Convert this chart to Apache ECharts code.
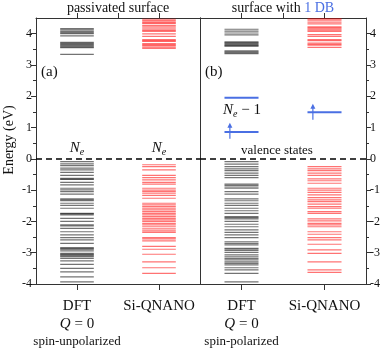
<!DOCTYPE html>
<html>
<head>
<meta charset="utf-8">
<script src="https://cdn.jsdelivr.net/npm/echarts@6/dist/echarts.min.js"></script>
<style>
html, body { margin: 0; padding: 0; background: #fff; }
#main { width: 384px; height: 349px; }
</style>
</head>
<body>
<div id="main"></div>
<script>
// x positions of the two methods on each panel's 0..4 axis
var dftX = 1, qnanoX = 3;

// (a) passivated surface, energies in eV
var passDftCond = [4.16, 4.12, 4.07, 4.03, 4.0, 3.93, 3.72, 3.69, 3.66, 3.63, 3.6, 3.57, 3.55, 3.34];
var passDftVal = [-0.09, -0.16, -0.22, -0.3, -0.35, -0.43, -0.53, -0.62, -0.64, -0.66, -0.75, -0.83, -0.94, -0.99,
    -1.05, -1.13, -1.28, -1.31, -1.34, -1.42, -1.49, -1.58, -1.74, -1.76, -1.79, -1.9, -2.0, -2.11, -2.14, -2.22,
    -2.33, -2.43, -2.52, -2.59, -2.7, -2.84, -2.87, -2.89, -2.94, -3.02, -3.05, -3.07, -3.1, -3.13, -3.18, -3.26,
    -3.37, -3.5, -3.61, -3.77, -3.93];
var passQnanoCond = [4.46, 4.42, 4.38, 4.35, 4.32, 4.26, 4.22, 4.18, 4.14, 4.1, 4.07, 3.99, 3.91, 3.81, 3.78, 3.75,
    3.68, 3.65, 3.62, 3.57, 3.53];
var passQnanoVal = [-0.19, -0.25, -0.35, -0.53, -0.6, -0.67, -0.75, -0.81, -0.94, -1.0, -1.05, -1.1, -1.17, -1.26,
    -1.42, -1.47, -1.53, -1.58, -1.63, -1.69, -1.74, -1.79, -1.85, -1.9, -1.95, -2.0, -2.06, -2.11, -2.17, -2.24,
    -2.3, -2.35, -2.52, -2.56, -2.62, -2.8, -2.89, -3.05, -3.29, -3.48, -3.66];

// (b) surface with 1 DB
var dbDftCond = [4.14, 4.08, 4.02, 3.96, 3.74, 3.71, 3.68, 3.65, 3.62, 3.6, 3.45, 3.42, 3.39, 3.36];
var dbDftVal = [-0.09, -0.17, -0.25, -0.32, -0.38, -0.46, -0.53, -0.6, -0.81, -0.85, -0.9, -0.94, -1.05, -1.13,
    -1.28, -1.34, -1.42, -1.49, -1.58, -1.66, -1.74, -1.85, -1.88, -1.92, -2.0, -2.09, -2.17, -2.27, -2.35, -2.43,
    -2.52, -2.65, -2.7, -2.75, -2.86, -2.89, -2.93, -2.99, -3.07, -3.13, -3.18, -3.23, -3.29, -3.34, -3.39, -3.48,
    -3.55, -3.66, -3.93];
var dbQnanoCond = [4.47, 4.43, 4.37, 4.31, 4.22, 4.19, 4.15, 4.11, 4.07, 3.97, 3.91, 3.81, 3.78, 3.7, 3.66, 3.63, 3.56];
var dbQnanoVal = [-0.25, -0.32, -0.38, -0.46, -0.53, -0.64, -0.7, -0.78, -0.94, -1.0, -1.07, -1.15, -1.24, -1.31,
    -1.37, -1.45, -1.53, -1.58, -1.69, -1.74, -1.92, -1.98, -2.06, -2.11, -2.17, -2.33, -2.41, -2.52, -2.59, -2.73,
    -2.91, -3.02, -3.29, -3.55, -3.63];

// dangling bond states (blue)
var dbDftStates = [1.95, 0.86];
var dbQnanoStates = [1.49];
// spin-up arrows: x, from, to
var spinX = [0.72, 2.72];
var spinFrom = [0.64, 1.25];
var spinTo = [1.15, 1.76];

var yTicks = [-4, -3, -2, -1, 0, 1, 2, 3, 4];

var serif = 'Liberation Serif';
var black = 'rgba(0,0,0,0.55)';
var red = 'rgba(255,0,0,0.55)';
var blue = '#4a6fe3';
var axisCol = '#333';

function levels(vals, xc, color, xi, yi, w) {
    return {
        type: 'custom',
        xAxisIndex: xi,
        yAxisIndex: yi,
        silent: true,
        data: vals.map(function (e) { return [xc, e]; }),
        renderItem: function (params, api) {
            var a = api.coord([api.value(0) - 0.41, api.value(1)]);
            var b = api.coord([api.value(0) + 0.41, api.value(1)]);
            return {
                type: 'line',
                shape: {x1: a[0], y1: a[1], x2: b[0], y2: b[1]},
                style: {stroke: color, lineWidth: w}
            };
        }
    };
}

function zeroLine(xi, yi) {
    return {
        type: 'line', xAxisIndex: xi, yAxisIndex: yi, data: [], silent: true,
        markLine: {
            silent: true, symbol: 'none', label: {show: false},
            lineStyle: {color: '#000', width: 1.5, type: [6, 4]},
            data: [{yAxis: 0}]
        }
    };
}

var arrowData = spinX.map(function (x, i) { return [x, spinFrom[i], spinTo[i]]; });

var chart = echarts.init(document.getElementById('main'));

function bottomAxis(grid, third) {
    return {
        type: 'value', gridIndex: grid, position: 'bottom', min: 0, max: 4,
        axisLine: {onZero: false, lineStyle: {color: axisCol}},
        axisTick: {customValues: [dftX, qnanoX], length: 6, lineStyle: {color: axisCol}},
        splitLine: {show: false},
        axisLabel: {
            customValues: [dftX, qnanoX],
            margin: 13,
            color: '#111',
            fontFamily: serif,
            fontSize: 15,
            lineHeight: 18,
            formatter: function (v) {
                if (v === dftX) return 'DFT\n{q|Q} = 0\n{s|' + third + '}';
                return 'Si-QNANO\n\n';
            },
            rich: {
                q: {fontStyle: 'italic', fontFamily: serif, fontSize: 15, color: '#111'},
                s: {fontFamily: serif, fontSize: 13, color: '#111'}
            }
        }
    };
}

function topAxis(grid) {
    return {
        type: 'value', gridIndex: grid, position: 'top', min: 0, max: 4,
        axisLine: {onZero: false, lineStyle: {color: axisCol}},
        axisTick: {customValues: [1, 2, 3], length: 5, lineStyle: {color: axisCol}},
        axisLabel: {show: false},
        splitLine: {show: false}
    };
}

function yAxis(grid, pos, ticks) {
    return {
        type: 'value', gridIndex: grid, position: pos, min: -4, max: 4.5,
        axisLine: {show: true, onZero: false, lineStyle: {color: axisCol}},
        axisTick: {show: ticks, customValues: yTicks, length: 5, lineStyle: {color: axisCol}},
        minorTick: {show: ticks, splitNumber: 2, length: 3, lineStyle: {color: axisCol}},
        axisLabel: {show: ticks, customValues: yTicks, margin: 4, color: '#111', fontFamily: serif, fontSize: 12},
        splitLine: {show: false},
        interval: 1
    };
}

chart.setOption({
    animation: false,
    grid: [
        {left: 36, right: 184, top: 18, bottom: 65, outerBoundsMode: 'none', containLabel: false},
        {left: 200, right: 18, top: 18, bottom: 65, outerBoundsMode: 'none', containLabel: false}
    ],
    xAxis: [bottomAxis(0, 'spin-unpolarized'), topAxis(0), bottomAxis(1, 'spin-polarized'), topAxis(1)],
    yAxis: [yAxis(0, 'left', true), yAxis(0, 'right', false), yAxis(1, 'left', false), yAxis(1, 'right', true)],
    series: [
        levels(passDftCond, dftX, black, 0, 0, 1.2),
        levels(passDftVal, dftX, black, 0, 0, 1.2),
        levels(passQnanoCond, qnanoX, red, 0, 0, 1.2),
        levels(passQnanoVal, qnanoX, red, 0, 0, 1.2),
        levels(dbDftCond, dftX, black, 2, 3, 1.2),
        levels(dbDftVal, dftX, black, 2, 3, 1.2),
        levels(dbQnanoCond, qnanoX, red, 2, 3, 1.2),
        levels(dbQnanoVal, qnanoX, red, 2, 3, 1.2),
        levels(dbDftStates, dftX, blue, 2, 3, 2),
        levels(dbQnanoStates, qnanoX, blue, 2, 3, 2),
        {
            type: 'custom', xAxisIndex: 2, yAxisIndex: 3, silent: true,
            data: arrowData,
            renderItem: function (params, api) {
                var a = api.coord([api.value(0), api.value(1)]);
                var b = api.coord([api.value(0), api.value(2)]);
                return {
                    type: 'group',
                    children: [
                        {type: 'line', shape: {x1: a[0], y1: a[1], x2: b[0], y2: b[1] + 3}, style: {stroke: blue, lineWidth: 1.2}},
                        {type: 'polygon', shape: {points: [[b[0], b[1]], [b[0] - 2.5, b[1] + 5], [b[0] + 2.5, b[1] + 5]]}, style: {fill: blue}}
                    ]
                };
            }
        },
        zeroLine(0, 0),
        zeroLine(2, 3)
    ],
    graphic: [
        {type: 'text', x: 9, y: 140, rotation: Math.PI / 2, style: {text: 'Energy (eV)', fontFamily: serif, fontSize: 14, fill: '#111', align: 'center', verticalAlign: 'middle'}},
        {type: 'text', x: 118, y: 8, style: {text: 'passivated surface', fontFamily: serif, fontSize: 14, fill: '#111', align: 'center', verticalAlign: 'middle'}},
        {type: 'text', x: 283, y: 8, style: {
            text: 'surface with {b|1 DB}', fontFamily: serif, fontSize: 14, fill: '#111', align: 'center', verticalAlign: 'middle',
            rich: {b: {fontFamily: serif, fontSize: 14, fill: blue}}
        }},
        {type: 'text', x: 41, y: 72, style: {text: '(a)', fontFamily: serif, fontSize: 15, fill: '#111', verticalAlign: 'middle'}},
        {type: 'text', x: 205, y: 72, style: {text: '(b)', fontFamily: serif, fontSize: 15, fill: '#111', verticalAlign: 'middle'}},
        {type: 'text', x: 77, y: 148, style: {
            text: '{n|N}{e|e}', align: 'center', verticalAlign: 'middle',
            rich: {
                n: {fontFamily: serif, fontStyle: 'italic', fontSize: 15, lineHeight: 18, fill: '#111'},
                e: {fontFamily: serif, fontStyle: 'italic', fontSize: 10, lineHeight: 10, verticalAlign: 'bottom', fill: '#111'}
            }
        }},
        {type: 'text', x: 159, y: 148, style: {
            text: '{n|N}{e|e}', align: 'center', verticalAlign: 'middle',
            rich: {
                n: {fontFamily: serif, fontStyle: 'italic', fontSize: 15, lineHeight: 18, fill: '#111'},
                e: {fontFamily: serif, fontStyle: 'italic', fontSize: 10, lineHeight: 10, verticalAlign: 'bottom', fill: '#111'}
            }
        }},
        {type: 'text', x: 242, y: 110, style: {
            text: '{n|N}{e|e}{t| − 1}', align: 'center', verticalAlign: 'middle',
            rich: {
                n: {fontFamily: serif, fontStyle: 'italic', fontSize: 15, lineHeight: 18, fill: '#111'},
                e: {fontFamily: serif, fontStyle: 'italic', fontSize: 10, lineHeight: 10, verticalAlign: 'bottom', fill: '#111'},
                t: {fontFamily: serif, fontSize: 15, lineHeight: 18, fill: '#111'}
            }
        }},
        {type: 'text', x: 277, y: 151, style: {text: 'valence states', fontFamily: serif, fontSize: 13, fill: '#111', align: 'center', verticalAlign: 'middle'}}
    ]
});
</script>
</body>
</html>
